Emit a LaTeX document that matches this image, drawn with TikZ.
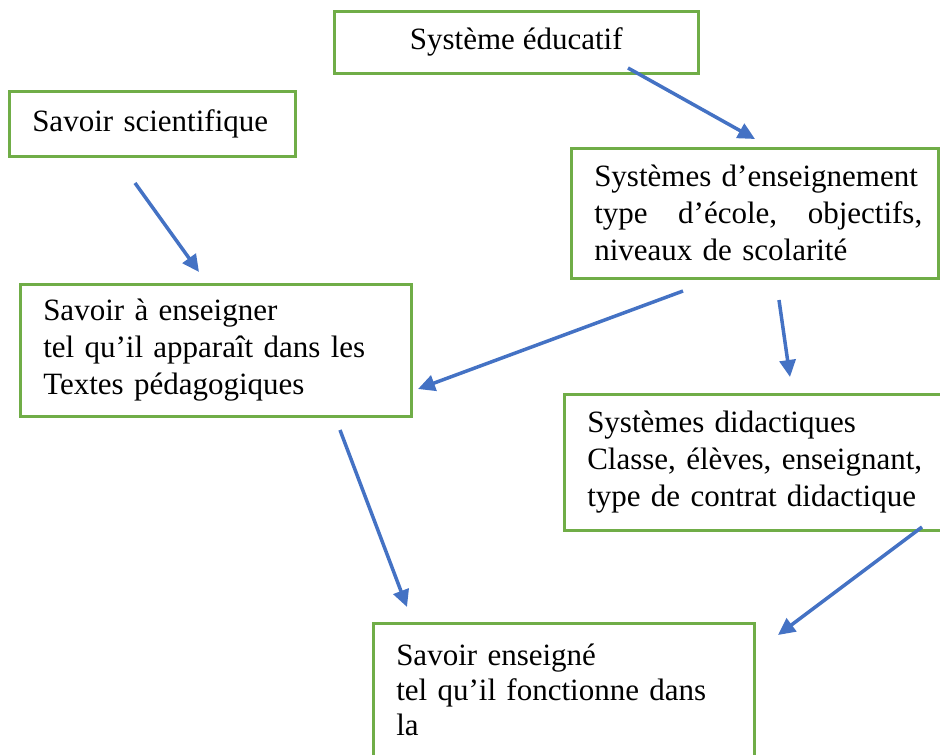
\documentclass[tikz,border=0pt]{standalone}
\usepackage{fontspec}
\setmainfont{Liberation Serif}
\usetikzlibrary{arrows.meta}
\definecolor{boxgreen}{RGB}{112,173,71}
\definecolor{arrowblue}{RGB}{68,114,196}
\tikzset{
  boxnode/.style={draw=boxgreen, line width=2.5pt, rectangle, inner xsep=23pt, inner ysep=0pt,
    font=\fontsize{31}{37}\selectfont, anchor=north west},
  arr/.style={draw=arrowblue, line width=3.5pt, -{Triangle[length=17pt,width=16pt]}}
}
\begin{document}
\begin{tikzpicture}[x=1pt,y=-1pt]
\useasboundingbox (0,0) rectangle (940,755);
\clip (0,0) rectangle (940,755);
\node[boxnode, minimum width=364pt, minimum height=62pt, align=center] (edu) at (333,10) {Système éducatif};
\node[boxnode, minimum width=286pt, minimum height=65pt, text width=240pt, align=left] (sci) at (8,90) {Savoir scientifique};
\node[boxnode, minimum width=367pt, minimum height=130pt, text width=321pt, align=left] (ens) at (570,147)
  {\makebox[321pt][l]{Systèmes d’enseignement}\\\makebox[328pt][l]{type\hfill d’école,\hfill objectifs,}\\niveaux de scolarité};
\node[boxnode, minimum width=391pt, minimum height=132pt, text width=345pt, align=left, inner xsep=21pt] (ae) at (19,283)
  {Savoir à enseigner\\tel qu’il apparaît dans les\\Textes pédagogiques};
\node[boxnode, minimum width=400pt, minimum height=136pt, text width=354pt, align=left] (did) at (563,393)
  {Systèmes didactiques\\Classe, élèves, enseignant,\\type de contrat didactique};
\node[boxnode, minimum width=381pt, minimum height=180pt, text width=335pt, align=left,
  font=\fontsize{31}{35}\selectfont] (sen) at (372,622)
  {\vphantom{X}\\[-45pt]Savoir enseigné\\\makebox[310pt][l]{tel qu’il\hfill fonctionne\hfill dans}\\la\\\phantom{x}};
\coordinate (a1s) at (628,68);  \coordinate (a1e) at (755,139);
\coordinate (a2s) at (135,183); \coordinate (a2e) at (199,272);
\coordinate (a3s) at (683,291); \coordinate (a3e) at (418,389);
\coordinate (a4s) at (779,300); \coordinate (a4e) at (790,377);
\coordinate (a5s) at (340,430); \coordinate (a5e) at (407,607);
\coordinate (a6s) at (922,527); \coordinate (a6e) at (778,635);
\draw[arr] (a1s) -- (a1e);
\draw[arr] (a2s) -- (a2e);
\draw[arr] (a3s) -- (a3e);
\draw[arr] (a4s) -- (a4e);
\draw[arr] (a5s) -- (a5e);
\draw[arr] (a6s) -- (a6e);
\end{tikzpicture}
\end{document}
